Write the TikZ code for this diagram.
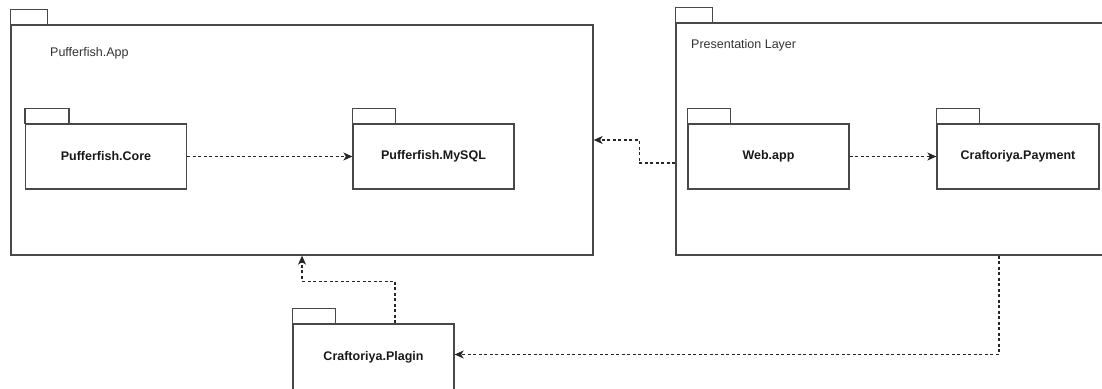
\documentclass[tikz,border=0pt]{standalone}
\usepackage{fontspec}
\setmainfont{Liberation Sans}
\usetikzlibrary{arrows.meta}
\definecolor{linegray}{HTML}{484848}
\definecolor{labelgray}{HTML}{333333}
\tikzset{
  pkgbody/.style={draw=linegray, line width=1.3pt, rectangle, inner sep=0pt,
    font=\fontsize{12.5}{14}\selectfont\bfseries, text=black!90},
  pkgtab/.style={draw=linegray, line width=1.3pt},
  outerlabel/.style={anchor=west, inner sep=0pt, font=\fontsize{12.5}{14}\selectfont, text=labelgray},
  dep/.style={draw=black!85, line width=1.2pt, dash pattern=on 3pt off 2.5pt,
    -{Stealth[length=9pt,width=8pt,inset=2.5pt]}}
}
\begin{document}
\begin{tikzpicture}[x=1pt,y=-1pt]
\useasboundingbox (0,0) rectangle (1102,388);
\begin{scope}
\clip (0,0) rectangle (1102,388);
% outer package: Pufferfish.App
\node[pkgbody, minimum width=582pt, minimum height=230pt] (app) at (302,140) {};
\draw[pkgtab] (app.north west) rectangle ++(37,-15);
\node[outerlabel] (applbl) at (50,53) {Pufferfish.App};
% outer package: Presentation Layer
\node[pkgbody, minimum width=430pt, minimum height=232pt] (pres) at (891,139) {};
\draw[pkgtab] (pres.north west) rectangle ++(37,-15);
\node[outerlabel] (preslbl) at (691,45) {Presentation Layer};
% inner packages
\node[pkgbody, minimum width=161pt, minimum height=65pt] (core) at (106,156.5) {Pufferfish.Core};
\draw[pkgtab] (core.north west) rectangle ++(44,-15);
\node[pkgbody, minimum width=161pt, minimum height=65pt] (mysql) at (433.5,156.5) {Pufferfish.MySQL};
\draw[pkgtab] (mysql.north west) rectangle ++(43,-15);
\node[pkgbody, minimum width=161pt, minimum height=65pt] (web) at (768.5,156.5) {Web.app};
\draw[pkgtab] (web.north west) rectangle ++(43,-15);
\node[pkgbody, minimum width=162pt, minimum height=65pt] (pay) at (1018,156.5) {Craftoriya.Payment};
\draw[pkgtab] (pay.north west) rectangle ++(43,-15);
\node[pkgbody, minimum width=161pt, minimum height=67pt] (plagin) at (373.5,357.5) {\raisebox{3pt}{Craftoriya.Plagin}};
\draw[pkgtab] (plagin.north west) rectangle ++(43,-15);
% connectors
\draw[dep] (core.east) -- (mysql.west);
\draw[dep] (web.east) -- (pay.west);
\draw[dep] ([yshift=-24pt]pres.west) -- ++(-36,0) |- (app.east);
\draw[dep] ([xshift=21.5pt]plagin.north) -- ++(0,-42) -| (app.south);
\draw[dep] ([xshift=108pt]pres.south) |- ([yshift=3pt]plagin.east);
\end{scope}
\end{tikzpicture}
\end{document}
